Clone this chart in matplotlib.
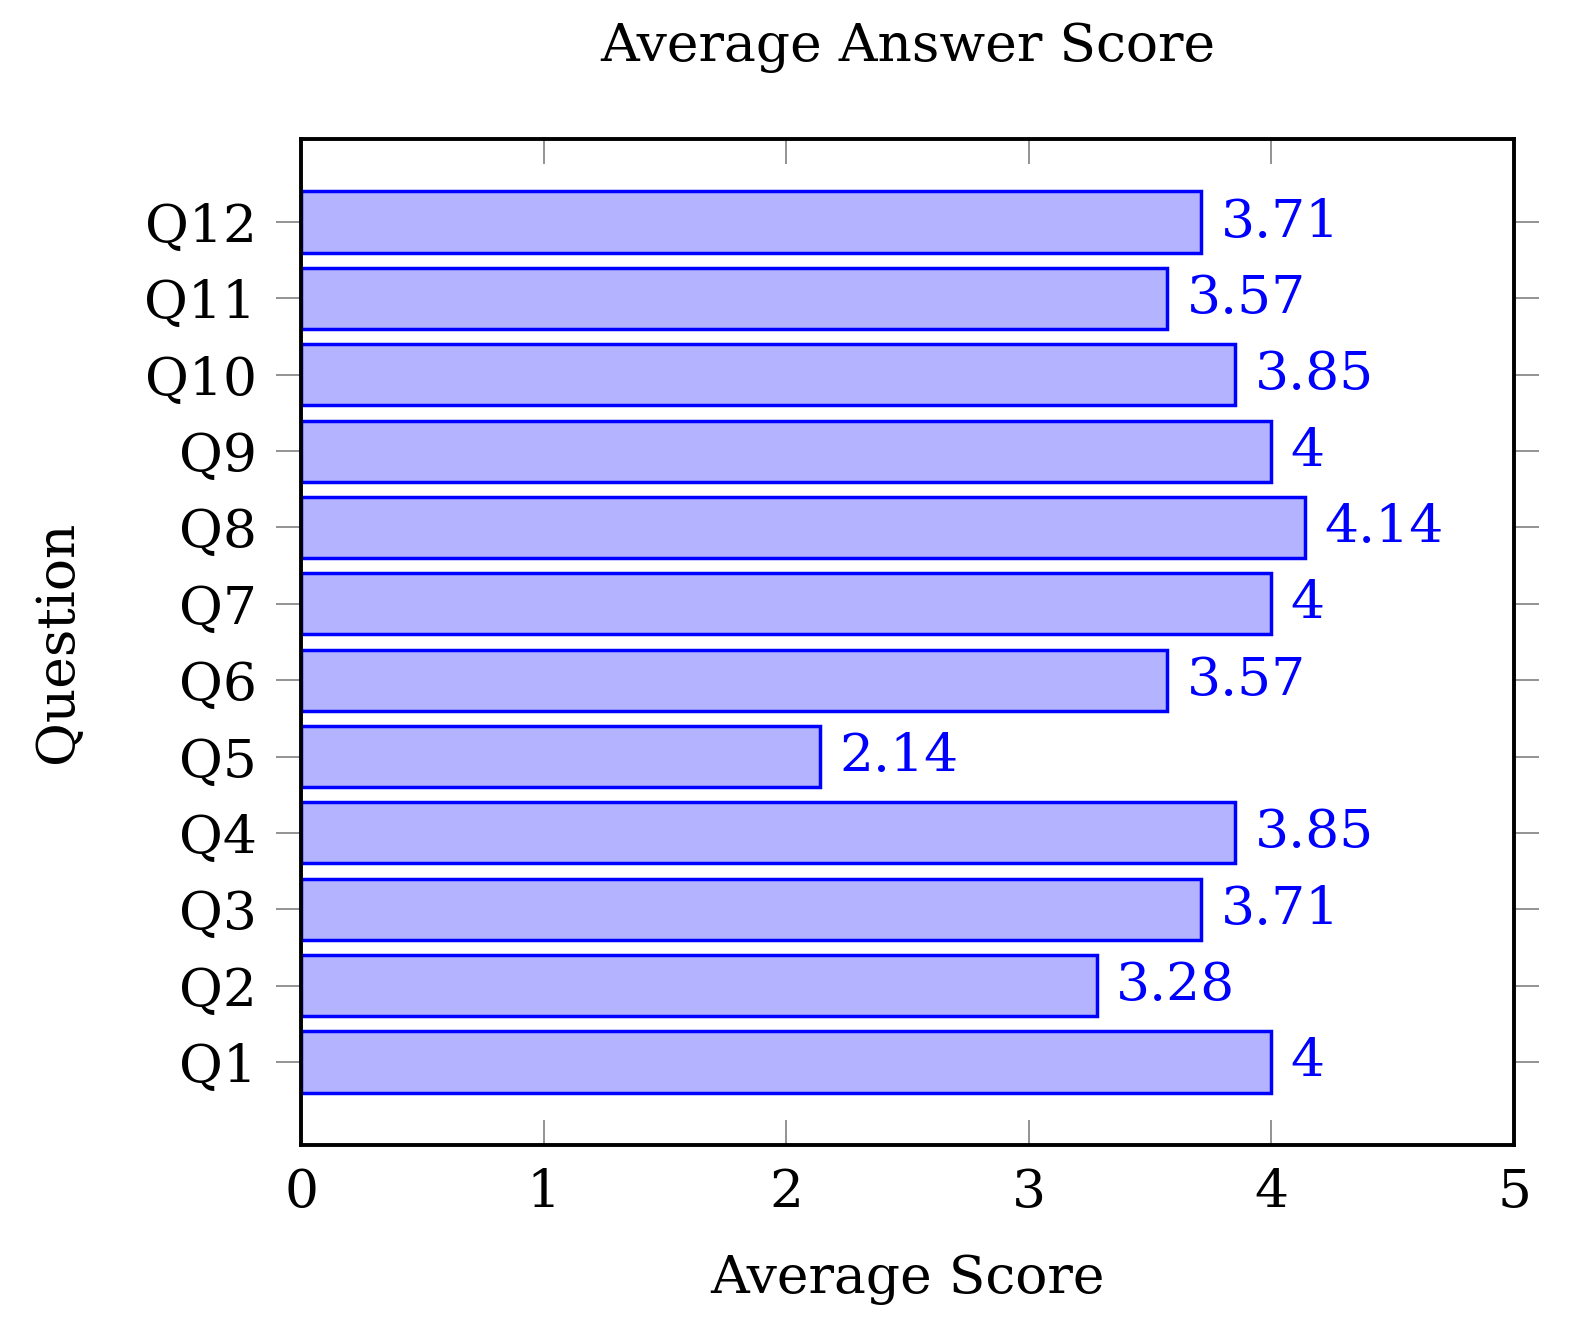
import matplotlib
matplotlib.use("Agg")
import matplotlib.pyplot as plt

questions = ["Q1", "Q2", "Q3", "Q4", "Q5", "Q6", "Q7", "Q8", "Q9", "Q10", "Q11", "Q12"]
scores = [4, 3.28, 3.71, 3.85, 2.14, 3.57, 4, 4.14, 4, 3.85, 3.57, 3.71]
score_labels = ["4", "3.28", "3.71", "3.85", "2.14", "3.57", "4", "4.14", "4", "3.85", "3.57", "3.71"]
x_ticks = [0, 1, 2, 3, 4, 5]

plt.rcParams['font.family'] = ['DejaVu Serif']

FS = 38.5
W, H = 1571, 1336
fig = plt.figure(figsize=(W / 100, H / 100), dpi=100)
ax = fig.add_axes([301 / W, 1 - 1145 / H, (1514 - 301) / W, (1145 - 139) / H])

pos = list(range(1, len(questions) + 1))
ax.barh(pos, scores, height=0.8, color="#b3b3ff", edgecolor="#0000ff", linewidth=2.5, zorder=3)
for p, s, lab in zip(pos, scores, score_labels):
    ax.annotate(lab, (s, p), xytext=(14, 0), textcoords="offset points",
                va="center", ha="left", color="#0000ff", fontsize=FS)

ax.set_xlim(0, 5)
ax.set_ylim(1 - 1.087, 12 + 1.087)
ax.set_xticks(x_ticks)
ax.set_xticklabels([str(t) for t in x_ticks])
ax.set_yticks(pos)
ax.set_yticklabels(questions)

ax.tick_params(axis="x", direction="in", top=True, bottom=True, length=18, width=1.2,
               color="#808080", labelsize=FS, pad=16)
ax.tick_params(axis="y", direction="out", left=True, right=True, length=18, width=1.2,
               color="#808080", labelsize=FS, pad=14)
for sp in ax.spines.values():
    sp.set_linewidth(2.8)
    sp.set_color("black")
    sp.set_zorder(5)

ax.set_xlabel("Average Score", fontsize=FS, labelpad=26)
ax.set_ylabel("Question", fontsize=FS, labelpad=44)
ax.set_title("Average Answer Score", fontsize=FS, pad=56)

fig.savefig("out.png", dpi=100)
